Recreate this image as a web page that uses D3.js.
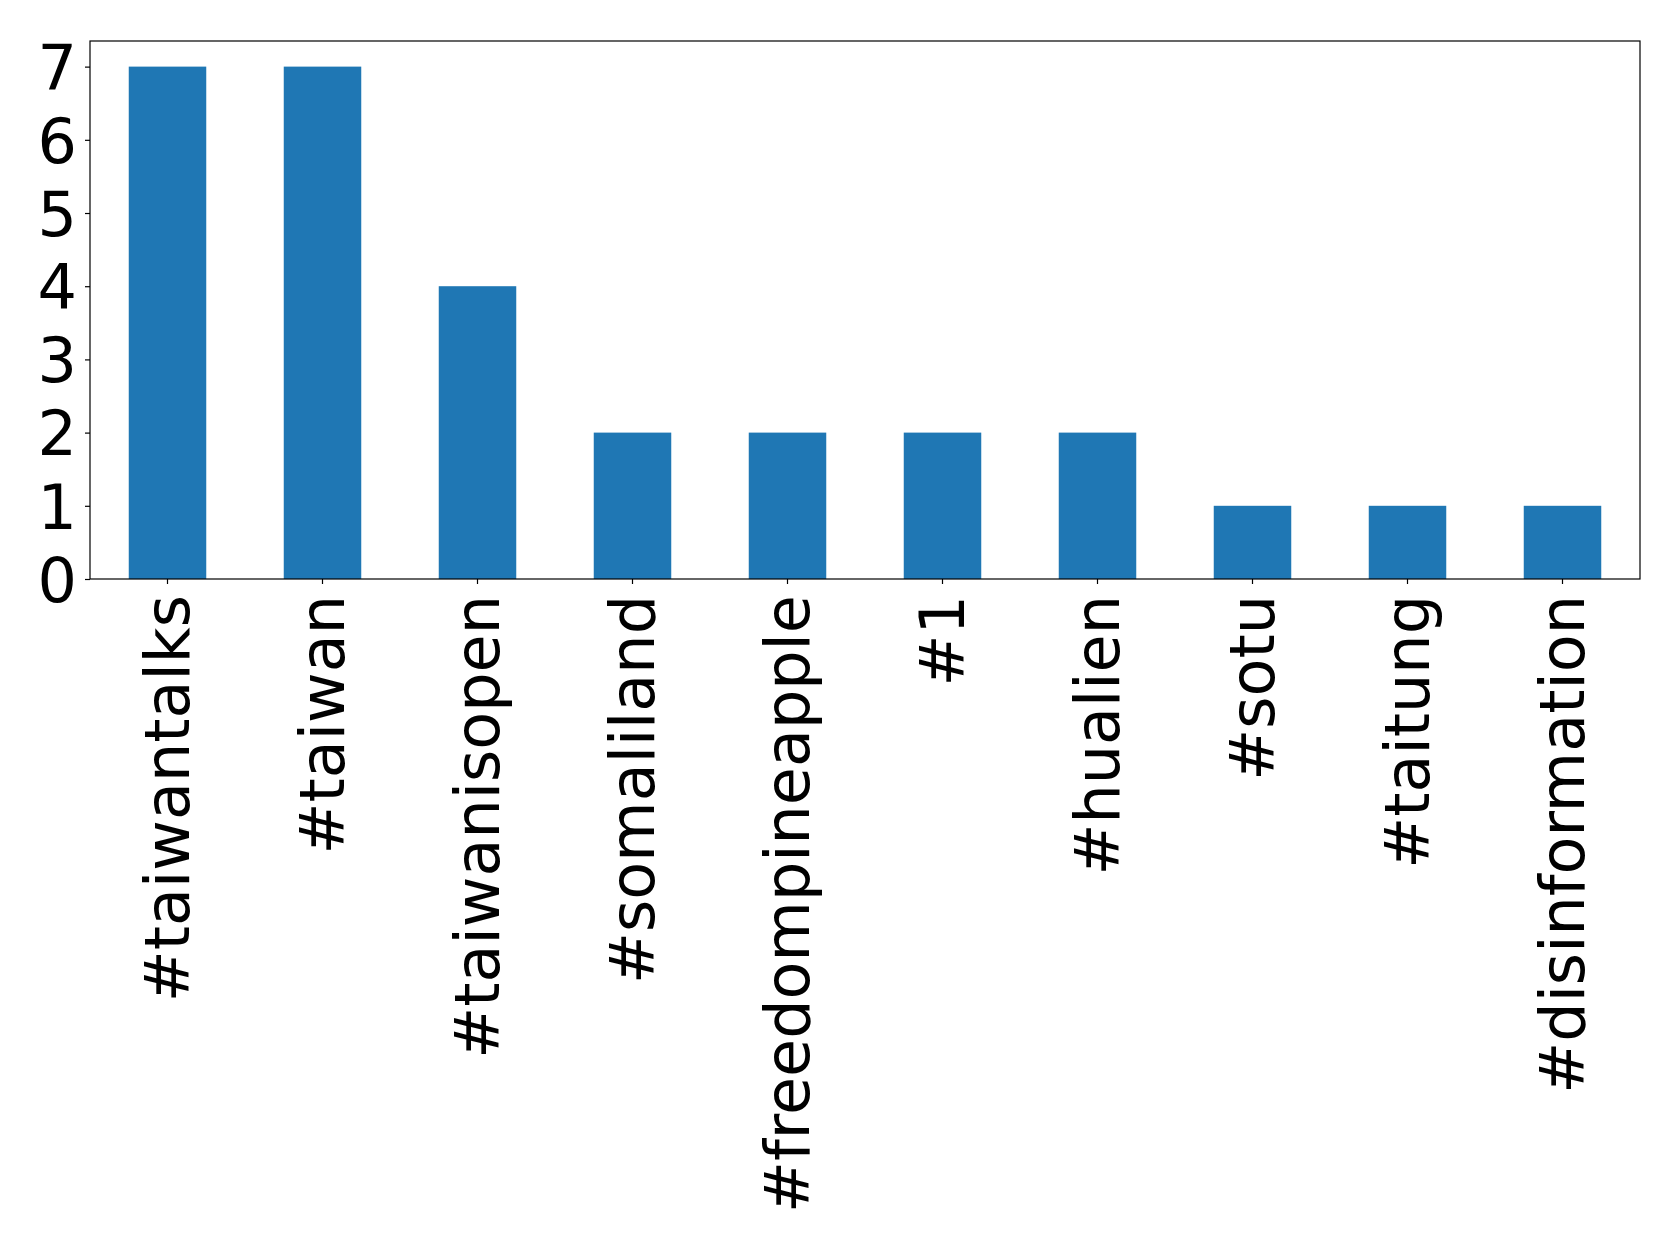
<!DOCTYPE html>
<html>
<head>
<meta charset="utf-8">
<script src="https://cdn.jsdelivr.net/npm/d3@7"></script>
<style>
  html, body { margin: 0; padding: 0; background: #fff; }
  svg { display: block; }
  text { font-family: "DejaVu Sans", sans-serif; fill: #000; }
</style>
</head>
<body>
<svg id="chart" width="1679" height="1251"></svg>
<script>
const categories = ["#taiwantalks", "#taiwan", "#taiwanisopen", "#somaliland", "#freedompineapple", "#1", "#hualien", "#sotu", "#taitung", "#disinformation"];
const values = [7, 7, 4, 2, 2, 2, 2, 1, 1, 1];
const yTicks = [0, 1, 2, 3, 4, 5, 6, 7];

const W = 1679, H = 1251;
const margin = { left: 90, right: 39, top: 41, bottom: 672 };
const svg = d3.select("#chart");
const plotW = W - margin.left - margin.right;
const plotH = H - margin.top - margin.bottom;

const x = d3.scaleBand().domain(categories).range([margin.left, margin.left + plotW])
  .paddingInner(0.5).paddingOuter(0.25);
const y = d3.scaleLinear().domain([0, 7.35]).range([margin.top + plotH, margin.top]);

// bars
svg.append("g").selectAll("rect").data(categories).join("rect")
  .attr("x", d => x(d))
  .attr("width", x.bandwidth())
  .attr("y", (d, i) => y(values[i]))
  .attr("height", (d, i) => y(0) - y(values[i]))
  .attr("fill", "#1f77b4");

// y axis
const yAxis = svg.append("g").attr("transform", `translate(${margin.left},0)`)
  .call(d3.axisLeft(y).tickValues(yTicks).tickFormat(d3.format("d")).tickSize(5).tickPadding(8));
yAxis.select(".domain").remove();
yAxis.selectAll("text").attr("font-size", 62).attr("font-family", "DejaVu Sans").attr("dy", "0.36em");
yAxis.selectAll("line").attr("stroke", "#000").attr("stroke-width", 1.2);

// x axis
const xAxis = svg.append("g").attr("transform", `translate(0,${margin.top + plotH})`)
  .call(d3.axisBottom(x).tickSize(5).tickPadding(0));
xAxis.select(".domain").remove();
xAxis.selectAll("line").attr("stroke", "#000").attr("stroke-width", 1.2);
xAxis.selectAll("text")
  .attr("font-size", 62)
  .attr("font-family", "DejaVu Sans")
  .attr("transform", "translate(0,16) rotate(-90)")
  .attr("text-anchor", "end")
  .attr("x", 0).attr("y", 0)
  .attr("dy", "0.35em");

// frame
svg.append("rect")
  .attr("x", margin.left).attr("y", margin.top)
  .attr("width", plotW).attr("height", plotH)
  .attr("fill", "none").attr("stroke", "#000").attr("stroke-width", 1.2);
</script>
</body>
</html>
